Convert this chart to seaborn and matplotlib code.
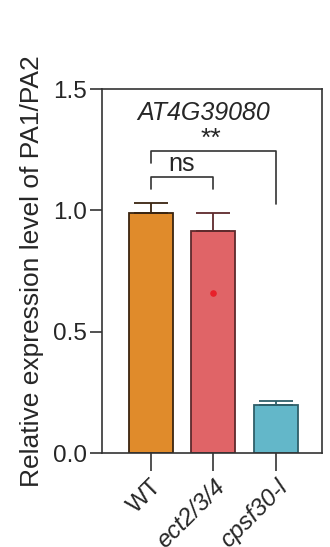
import numpy as np
import pandas as pd
import matplotlib
matplotlib.use("Agg")
from matplotlib import pyplot as plt
import seaborn as sns

genotypes = ["WT", "ect2/3/4", "cpsf30-l"]
means = [0.99, 0.915, 0.198]
errs = [0.04, 0.075, 0.016]
dot_value = 0.66
bar_colors = ["#E08B2B", "#E06467", "#63B7C9"]
edge_colors = ["#3A2410", "#5E2A2C", "#2F5F69"]

sns.set_style("ticks")
plt.rcParams["font.family"] = ["Liberation Sans", "DejaVu Sans"]

df = pd.DataFrame({"genotype": genotypes, "value": means})

fig = plt.figure(figsize=(3.3, 5.47), dpi=100)
ax = fig.add_axes([102/330, 1 - 453/547, 220/330, 364/547])

sns.barplot(data=df, x="genotype", y="value", hue="genotype", palette=bar_colors,
            errorbar=None, width=0.7, saturation=1, legend=False, ax=ax)
for p, ec in zip(ax.patches, edge_colors):
    p.set_edgecolor(ec)
    p.set_linewidth(1.3)

for i in range(len(genotypes)):
    ax.errorbar(i, means[i], yerr=[[0], [errs[i]]], fmt="none", ecolor=edge_colors[i],
                elinewidth=1.3, capsize=12, capthick=1.3)

ax.scatter([1], [dot_value], s=14, color="#E8202A", zorder=5)

# significance brackets
ax.plot([0, 0, 1, 1], [1.086, 1.136, 1.136, 1.086], color="#333333", lw=1.2)
ax.text(0.5, 1.14, "ns", ha="center", va="bottom", fontsize=18)
ax.plot([0, 0, 2, 2], [1.193, 1.243, 1.243, 1.025], color="#333333", lw=1.2)
ax.text(0.97, 1.245, "**", ha="center", va="bottom", fontsize=19)
ax.text(0.84, 1.40, "AT4G39080", ha="center", va="center", fontsize=18, style="italic")

ax.set_ylim(0, 1.5)
ax.set_xlim(-0.78, 2.74)
ax.set_yticks([0, 0.5, 1.0, 1.5])
ax.set_yticklabels(["0.0", "0.5", "1.0", "1.5"], fontsize=17.5)
ax.set_xticks(range(3))
ax.set_xticklabels(genotypes, rotation=45, ha="right", rotation_mode="anchor", fontsize=17.5)
ax.tick_params(axis="y", length=9, width=1.2, color="#333333", pad=2)
ax.tick_params(axis="x", length=13, width=1.2, color="#333333", pad=3)
for lbl in ax.get_xticklabels()[1:]:
    lbl.set_style("italic")
for s in ax.spines.values():
    s.set_visible(True)
    s.set_linewidth(1.2)
    s.set_color("#333333")
ax.set_xlabel("")
ax.set_ylabel("Relative expression level of PA1/PA2", fontsize=19, labelpad=6)

plt.savefig("out.png", dpi=100)
